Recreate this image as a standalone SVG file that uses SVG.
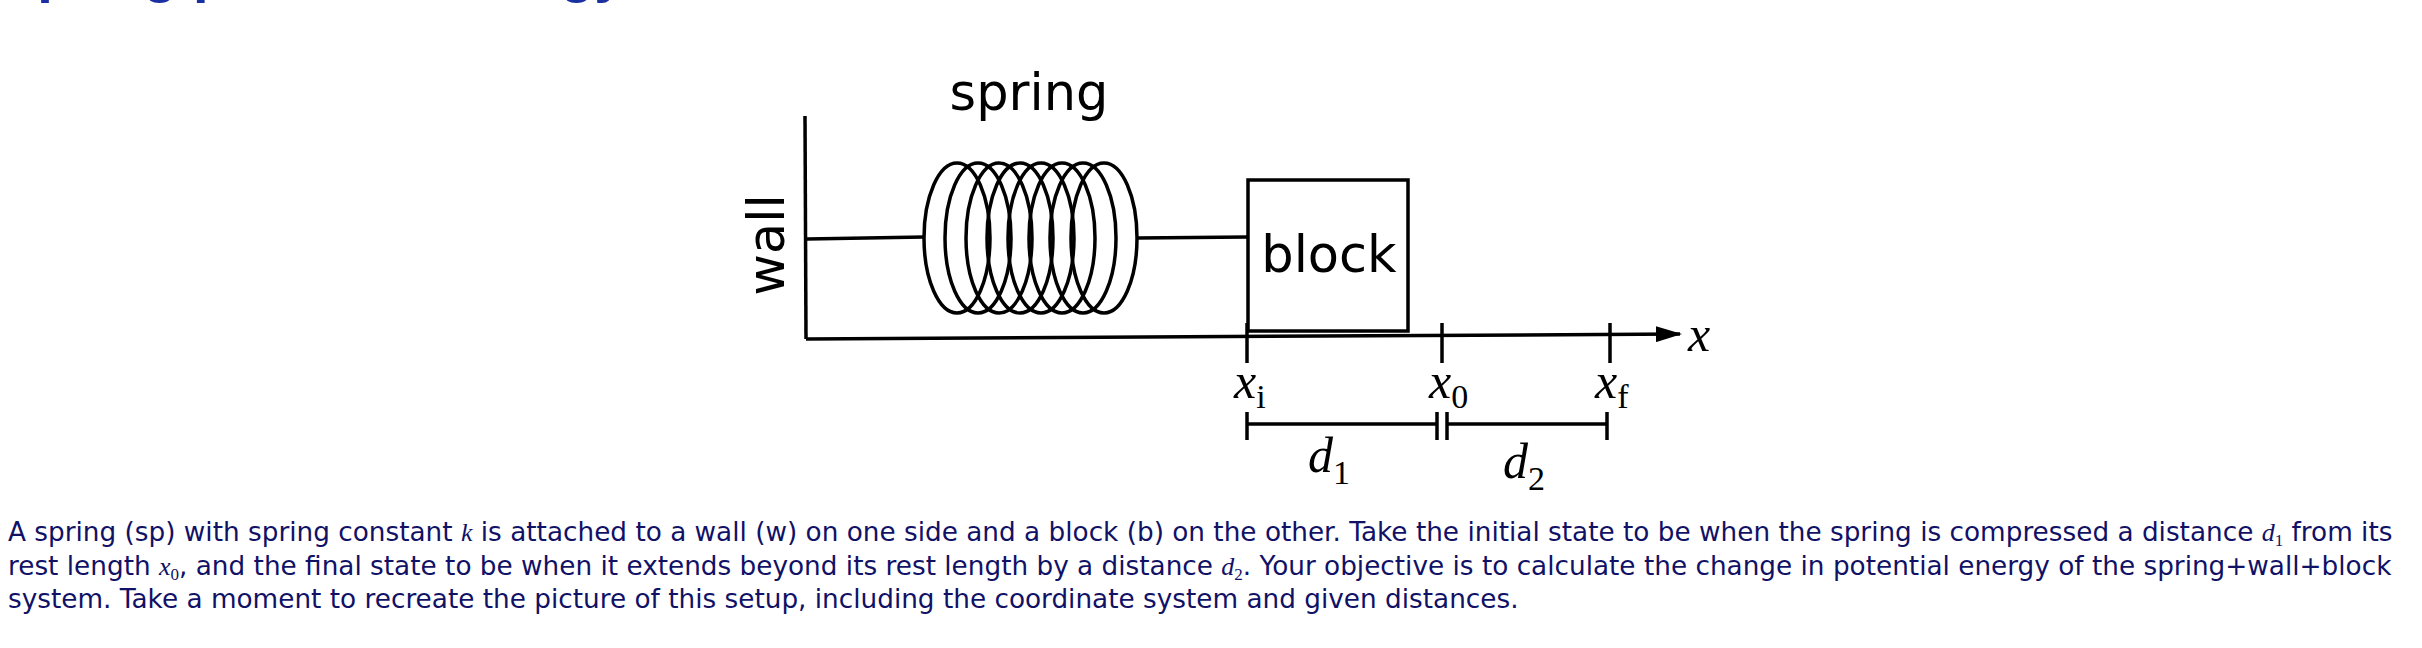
<svg xmlns="http://www.w3.org/2000/svg" width="2422" height="648" viewBox="0 0 2422 648">
<style>
.ln{stroke:#000;stroke-width:3.5;fill:none}
.sans{font-family:"DejaVu Sans",sans-serif;font-size:51px;fill:#000}
.math{font-family:"Liberation Serif",serif;font-style:italic;font-size:50px;fill:#000}
.sub{font-family:"Liberation Serif",serif;font-size:34px;fill:#000}
.para{font-family:"DejaVu Sans",sans-serif;font-size:26.3px;fill:#111166}
.pm{font-family:"Liberation Serif",serif;font-style:italic;font-size:26px}
.ps{font-family:"Liberation Serif",serif;font-size:17px}
</style>
<defs><marker id="ar" markerWidth="26" markerHeight="16" refX="24" refY="8" orient="auto" markerUnits="userSpaceOnUse"><path d="M0,0 L26,8 L0,16 Z" fill="#000"/></marker></defs>
<text x="0" y="-9" style="font-family:'Liberation Sans',sans-serif;font-weight:bold;font-size:56px;fill:#1a2fa0">Spring potential energy</text>
<g id="wall"><line class="ln" x1="805" y1="116" x2="806" y2="339"/><text class="sans" transform="translate(784,245) rotate(-90)" text-anchor="middle">wall</text></g>
<g id="spring">
<text class="sans" x="1029" y="110" text-anchor="middle">spring</text>
<g class="ln">
<ellipse cx="957" cy="238" rx="33" ry="75"/><ellipse cx="978" cy="238" rx="33" ry="75"/><ellipse cx="999" cy="238" rx="33" ry="75"/><ellipse cx="1020" cy="238" rx="33" ry="75"/><ellipse cx="1041" cy="238" rx="33" ry="75"/><ellipse cx="1062" cy="238" rx="33" ry="75"/><ellipse cx="1083" cy="238" rx="33" ry="75"/><ellipse cx="1104" cy="238" rx="33" ry="75"/>
</g></g>
<g id="block"><rect class="ln" x="1248" y="180" width="160" height="151"/><text class="sans" x="1329" y="272" text-anchor="middle">block</text></g>
<g id="connectors">
<line class="ln" x1="807" y1="239" x2="924" y2="237"/>
<line class="ln" x1="1137" y1="238" x2="1248" y2="237"/>
<line class="ln" x1="806" y1="339" x2="1680" y2="334" marker-end="url(#ar)"/>
<line class="ln" x1="1247" y1="323" x2="1247" y2="363"/>
<line class="ln" x1="1442" y1="323" x2="1442" y2="363"/>
<line class="ln" x1="1610" y1="323" x2="1610" y2="363"/>
<line class="ln" x1="1247" y1="412" x2="1247" y2="440"/>
<line class="ln" x1="1247" y1="424" x2="1437" y2="424"/>
<line class="ln" x1="1437" y1="412" x2="1437" y2="440"/>
<line class="ln" x1="1447" y1="412" x2="1447" y2="440"/>
<line class="ln" x1="1447" y1="424" x2="1607" y2="424"/>
<line class="ln" x1="1607" y1="412" x2="1607" y2="440"/>
</g>
<g id="labels">
<text class="math" x="1688" y="351">x</text>
<text class="math" x="1234" y="398">x<tspan class="sub" dy="10" font-style="normal">i</tspan></text>
<text class="math" x="1429" y="398">x<tspan class="sub" dy="10" font-style="normal">0</tspan></text>
<text class="math" x="1595" y="398">x<tspan class="sub" dy="10" font-style="normal">f</tspan></text>
<text class="math" x="1308" y="472">d<tspan class="sub" dy="12" font-style="normal">1</tspan></text>
<text class="math" x="1503" y="478">d<tspan class="sub" dy="12" font-style="normal">2</tspan></text>
</g>
<g id="caption" class="para">
<text x="8" y="541">A spring (sp) with spring constant <tspan class="pm">k</tspan> is attached to a wall (w) on one side and a block (b) on the other. Take the initial state to be when the spring is compressed a distance <tspan class="pm">d</tspan><tspan class="ps" dy="5">1</tspan><tspan dy="-5"> from its</tspan></text>
<text x="8" y="575">rest length <tspan class="pm">x</tspan><tspan class="ps" dy="5">0</tspan><tspan dy="-5">, and the final state to be when it extends beyond its rest length by a distance </tspan><tspan class="pm">d</tspan><tspan class="ps" dy="5">2</tspan><tspan dy="-5">. Your objective is to calculate the change in potential energy of the spring+wall+block</tspan></text>
<text x="8" y="608">system. Take a moment to recreate the picture of this setup, including the coordinate system and given distances.</text>
</g>
</svg>
